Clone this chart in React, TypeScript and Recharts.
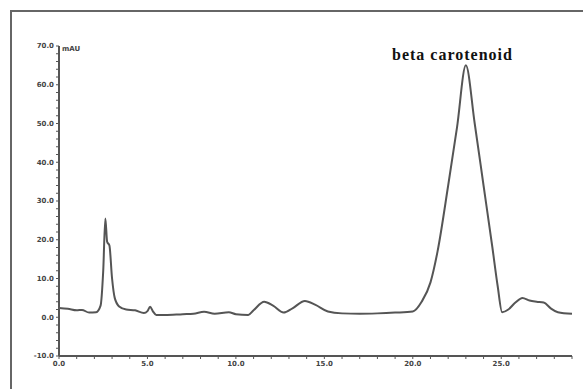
import React from 'react';
import { LineChart, Line, XAxis, YAxis } from 'recharts';

// retention time (min) and absorbance (mAU)
const times = [
  0, 0.5, 1.0, 1.3, 1.7, 2.1, 2.35, 2.5, 2.62, 2.72, 2.85, 3.0, 3.15, 3.4, 3.8, 4.3, 4.8, 5.0, 5.15, 5.3,
  5.5, 6.0, 7.0, 7.6, 8.2, 8.8, 9.6, 10.0, 10.7, 11.0, 11.6, 12.1, 12.7, 13.2, 13.9, 14.5, 15.2, 16.0,
  17.0, 18.0, 19.0, 20.0, 20.5, 21.0, 21.4, 22.0, 22.5, 23.0, 23.5, 24.0, 24.5, 24.8, 25.05, 25.4, 25.8,
  26.2, 26.6, 27.0, 27.4, 27.8, 28.2, 29.0,
];
const absorbance = [
  2.4, 2.2, 1.8, 1.9, 1.2, 1.3, 3, 12, 25.5, 19.5, 18.5, 10, 5, 2.8, 2.0, 1.8, 1.1, 1.6, 2.7, 1.6,
  0.6, 0.6, 0.8, 0.9, 1.4, 0.9, 1.3, 0.8, 0.6, 1.8, 4.0, 3.0, 1.2, 2.3, 4.2, 3.2, 1.5, 1.0,
  0.9, 1.0, 1.2, 1.5, 4, 9, 17, 34, 49, 65, 50, 34, 18, 8, 1.3, 2.0, 3.8,
  5.0, 4.3, 4.0, 3.8, 2.3, 1.3, 0.9,
];

const xTicks = Array.from({ length: 30 }, (_, i) => i);
const yTicks = Array.from({ length: 41 }, (_, i) => -10 + i * 2);

const data = times.map((t, i) => ({ t, v: absorbance[i] }));

const tickStyle = { fontSize: 7, fontWeight: 700, fill: '#444', fontFamily: 'DejaVu Sans' };

export default function App() {
  return (
    <div style={{ position: 'absolute', left: 0, top: 0, width: 583, height: 389, background: '#fff' }}>
      <div
        style={{
          position: 'absolute', left: 10, top: 10, width: 580, height: 390,
          borderLeft: '2px solid #666', borderTop: '2px solid #666',
        }}
      />
      <LineChart width={583} height={389} data={data} margin={{ top: 46, right: 11, bottom: 13, left: 0 }}>
        <XAxis
          type="number"
          dataKey="t"
          domain={[0, 29]}
          ticks={xTicks}
          interval={0}
          height={20}
          tickSize={3}
          tickFormatter={(v: number) => (v % 5 === 0 ? v.toFixed(1) : '')}
          tick={tickStyle}
          stroke="#555"
          axisLine={{ stroke: '#555', strokeWidth: 2 }}
        />
        <YAxis
          type="number"
          domain={[-10, 70]}
          ticks={yTicks}
          interval={0}
          width={59}
          tickSize={3}
          tickFormatter={(v: number) => (v % 10 === 0 ? v.toFixed(1) : '')}
          tick={tickStyle}
          stroke="#555"
          axisLine={{ stroke: '#555', strokeWidth: 2 }}
        />
        <Line
          type="monotone"
          dataKey="v"
          stroke="#555"
          strokeWidth={2}
          dot={false}
          isAnimationActive={false}
        />
      </LineChart>
      <div style={{ position: 'absolute', left: 62, top: 45, fontSize: 7, fontWeight: 700, color: '#444', fontFamily: 'DejaVu Sans' }}>
        mAU
      </div>
      <div
        style={{
          position: 'absolute', left: 392, top: 46, fontSize: 16, fontWeight: 700, color: '#111',
          fontFamily: 'Liberation Serif', letterSpacing: 1, whiteSpace: 'nowrap',
        }}
      >
        beta carotenoid
      </div>
    </div>
  );
}
